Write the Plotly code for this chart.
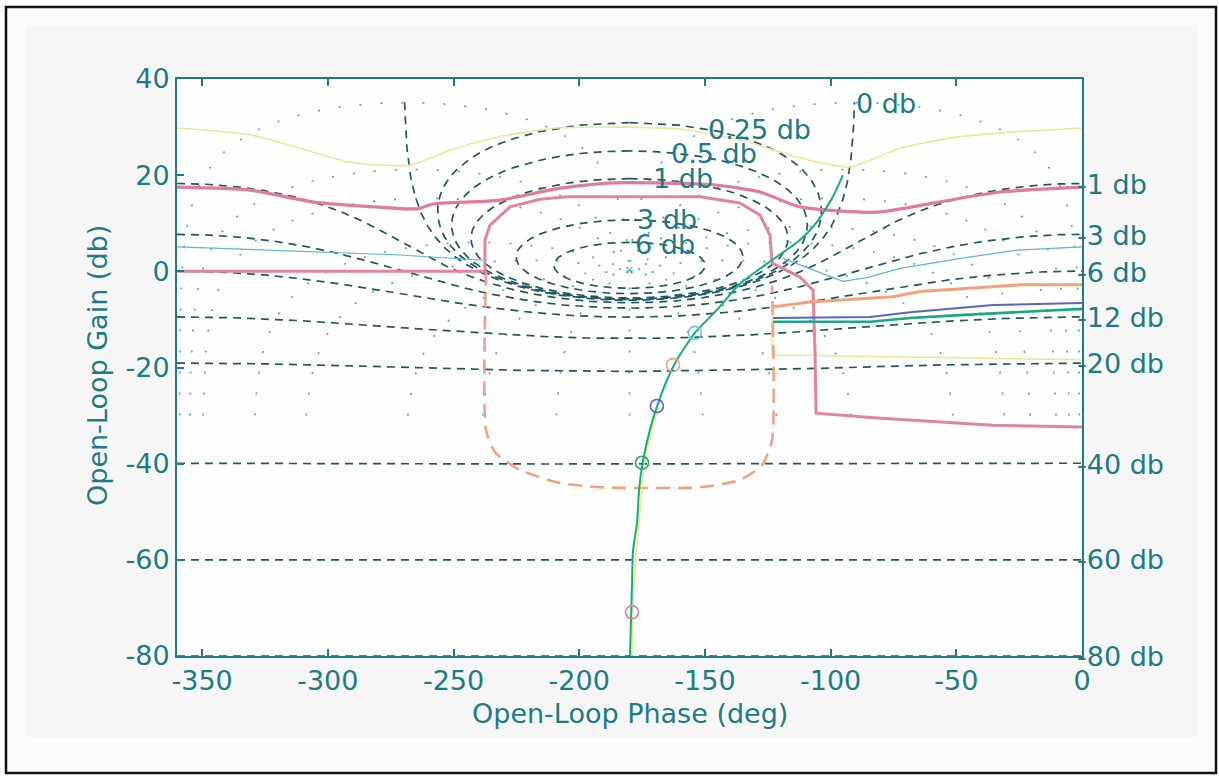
import numpy as np
import plotly.graph_objects as go

# ---------------- grid levels (Nichols chart) ----------------
m_levels_pos = [6, 3, 1, 0.5, 0.25]          # closed-loop gain contours, db (closed ellipses)
m_level_zero = 0
m_levels_neg = [-1, -3, -6, -12, -20, -40, -60, -80]
cl_phase_levels = [-1, -5, -10, -20, -30, -50, -90, -120, -150, -180,
                   -210, -240, -270, -310, -330, -350, -355, -359]
cl_phase_min_gain = -30

# ---------------- labels ----------------
top_label_text = ["0 db", "0.25 db", "0.5 db", "1 db", "3 db", "6 db"]
top_label_phase = [-90.6, -149.4, -164.2, -171.4, -178.0, -178.8]
top_label_gain = [35.0, 29.4, 24.6, 19.4, 10.7, 5.5]
right_label_text = ["-1 db", "-3 db", "-6 db", "-12 db", "-20 db", "-40 db", "-60 db", "-80 db"]
right_label_gain = [18.0, 7.5, -0.3, -9.7, -19.1, -40.2, -60.0, -80.0]

x_tick_vals = [-350, -300, -250, -200, -150, -100, -50, 0]
x_tick_text = ["-350", "-300", "-250", "-200", "-150", "-100", "-50", "0"]
y_tick_vals = [-80, -60, -40, -20, 0, 20, 40]
y_tick_text = ["-80", "-60", "-40", "-20", "0", "20", "40"]

# ---------------- bounds ----------------
yellow_top_phase = [-360, -331, -311.1, -291.2, -267.3, -251.4, -232.7, -208.8, -183.8,
                    -159.9, -136.1, -112.2, -92.3, -72.4, -52.5, -32.6, 0]
yellow_top_gain = [29.8, 28.4, 25.6, 22.7, 22.1, 25.2, 27.9, 29.8, 30.0,
                   29.6, 27.3, 23.6, 21.7, 25.6, 27.7, 28.8, 29.8]

yellow_low_phase = [-123.3, -123.3, 0]
yellow_low_gain = [-6.6, -17.4, -18.4]

pink_top_phase = [-360, -331, -305.9, -278.1, -264.5, -258.2, -231.5, -207.7, -186.6,
                  -146.8, -128.1, -112.2, -81.6, -59.3, -32.6, 0]
pink_top_gain = [17.5, 16.9, 14.4, 13.3, 13.0, 14.0, 14.8, 17.3, 18.4,
                 18.0, 16.5, 13.4, 12.3, 14.2, 16.5, 17.5]

pink_low_phase = [-360, -311.1, -237.5, -237.5, -235.5, -227.5, -215.6, -204.9, -152,
                  -136.1, -128.1, -124.1, -123.3, -112.2, -107, -106.2, -105.8, -81.6, -35.4, 0]
pink_low_gain = [0, 0, 0, 6.5, 9.6, 13.4, 15.0, 15.5, 15.5,
                 14.2, 11.7, 7.5, 1.7, -1.2, -3.9, -16.4, -29.5, -30.5, -32.0, -32.4]

orange_dash_phase = [-237.1, -237.1, -233.5, -223.6, -207.7, -191.7, -152, -136.1, -127.3, -123.3, -123.3]
orange_dash_gain = [0, -33, -37.6, -41.3, -44.0, -44.9, -44.9, -43.4, -40.3, -35.1, -3.0]

orange_phase = [-123.3, -108.2, -75.2, -64.5, -24.7, 0]
orange_gain = [-7.4, -6.4, -5.3, -4.2, -2.8, -2.8]

blue_phase = [-122.9, -84.3, -68.4, -35.4, 0]
blue_gain = [-9.7, -9.5, -8.5, -7.0, -6.6]

green_bound_phase = [-122.9, -84.3, -68.4, -48.6, 0]
green_bound_gain = [-10.5, -10.5, -9.7, -9.1, -7.8]

cyan_left_phase = [-360, -323, -271.3, -238.3]
cyan_left_gain = [5.1, 4.4, 3.4, 2.3]
cyan_right_phase = [-118.9, -95.1, -85.5, -72.4, -45.8, -25.8, 0]
cyan_right_gain = [2.7, -2.1, -1.3, 0.6, 2.9, 4.4, 5.1]

# ---------------- open-loop response ----------------
loop_phase = [-179.8, -179.0, -178.6, -177.0, -176.2, -174.8, -171.9, -169.1, -165.1,
              -161.1, -154.0, -145.2, -136.1, -125.3, -112.2, -105.4, -99.1, -95.1]
loop_gain = [-80.0, -64.8, -58.1, -52.3, -45.5, -39.9, -33.0, -28.2, -22.6,
             -18.4, -12.8, -8.0, -2.6, 1.6, 6.5, 10.3, 15.5, 20.0]

loop2_phase = [-179.0, -178.2, -176.2, -174.0, -171.1, -168.3]
loop2_gain = [-80.0, -64.8, -52.3, -39.9, -33.0, -28.2]

marker_phase = [-179.0, -175.0, -169.1, -162.7, -154.0]
marker_gain = [-70.9, -39.8, -28.0, -19.5, -12.8]
marker_color = ['#d77bb0', '#1aa86a', '#5a64c8', '#f0a070', '#6cc0e6']

# ---------------- styling ----------------
TEAL = '#1b7b87'
GRID = '#1e5963'
DOT = '#4aa6da'
FONT = 'DejaVu Sans'
FS = 27


def to_list(a):
    return [None if (v is None or not np.isfinite(v)) else float(v) for v in a]


def segments(ph, gd, keep):
    ph_out, gd_out = [], []
    prev = None
    for i in range(len(ph)):
        if not keep[i]:
            if prev is not None:
                ph_out.append(None)
                gd_out.append(None)
            prev = None
            continue
        if prev is not None and abs(ph[i] - prev) > 90:
            ph_out.append(None)
            gd_out.append(None)
        ph_out.append(float(ph[i]))
        gd_out.append(float(gd[i]))
        prev = ph[i]
    return ph_out, gd_out


fig = go.Figure()

# closed-loop phase contours (dotted)
mvals = np.logspace(-2, 4.5, 3000)
for psi in cl_phase_levels:
    z = np.exp(-1j * np.deg2rad(psi)) / mvals - 1.0
    G = 1.0 / z
    ph = np.angle(G, deg=True)
    ph = np.mod(ph + 360.0, 360.0) - 360.0
    gd = 20 * np.log10(np.abs(G))
    keep = (gd >= cl_phase_min_gain) & (gd < 60)
    px, gy = segments(ph, gd, keep)
    fig.add_trace(go.Scatter(x=px, y=gy, mode='lines', hoverinfo='skip',
                             line=dict(color=DOT, width=1.7, dash='2px,19px')))

# negative M contours
phi = np.linspace(-360, 0, 1441)
c = np.cos(np.deg2rad(phi))
for mdb in m_levels_neg:
    M = 10 ** (mdb / 20)
    g = (M ** 2 * c + np.sqrt(M ** 4 * c ** 2 + M ** 2 * (1 - M ** 2))) / (1 - M ** 2)
    fig.add_trace(go.Scatter(x=to_list(phi), y=to_list(20 * np.log10(g)), mode='lines',
                             hoverinfo='skip', line=dict(color=GRID, width=1.7, dash='8px,6px')))

# zero db contour
phi0 = np.linspace(-269.5, -90.5, 800)
g0 = -1.0 / (2 * np.cos(np.deg2rad(phi0)))
fig.add_trace(go.Scatter(x=to_list(phi0), y=to_list(20 * np.log10(g0)), mode='lines',
                         hoverinfo='skip', line=dict(color=GRID, width=1.7, dash='8px,6px')))

# positive M contours (closed)
psi_t = np.linspace(0, 2 * np.pi, 600)
for mdb in m_levels_pos:
    M = 10 ** (mdb / 20)
    G = 1.0 / (np.exp(-1j * psi_t) / M - 1.0)
    ph = np.angle(G, deg=True)
    ph = np.where(ph > 0, ph - 360, ph)
    fig.add_trace(go.Scatter(x=to_list(ph), y=to_list(20 * np.log10(np.abs(G))), mode='lines',
                             hoverinfo='skip', line=dict(color=GRID, width=1.7, dash='8px,6px')))


def add_line(x, y, color, width, dash='solid', shape='linear'):
    fig.add_trace(go.Scatter(x=x, y=y, mode='lines', hoverinfo='skip',
                             line=dict(color=color, width=width, dash=dash, shape=shape,
                                       smoothing=0.6)))


add_line(yellow_top_phase, yellow_top_gain, '#e4eb98', 1.6, shape='spline')
add_line(yellow_low_phase, yellow_low_gain, '#e4eb98', 1.6)
add_line(cyan_left_phase, cyan_left_gain, '#5ab4dc', 1.2)
add_line(cyan_right_phase, cyan_right_gain, '#5ab4dc', 1.2)
add_line(pink_top_phase, pink_top_gain, '#e07a9e', 3.2, shape='spline')
add_line(orange_dash_phase, orange_dash_gain, '#f2a27c', 2.6, dash='14px,8px', shape='spline')
add_line(pink_low_phase, pink_low_gain, '#e4849c', 3.0)
add_line(orange_phase, orange_gain, '#f2a27c', 3.0)
add_line(blue_phase, blue_gain, '#5a64c8', 2.0)
add_line(green_bound_phase, green_bound_gain, '#18a884', 2.6)

add_line(loop2_phase, loop2_gain, '#e8e878', 1.4, shape='spline')
add_line(loop_phase, loop_gain, '#12ad7e', 2.0, shape='spline')

for p, gval, col in zip(marker_phase, marker_gain, marker_color):
    fig.add_trace(go.Scatter(x=[p], y=[gval], mode='markers', hoverinfo='skip',
                             marker=dict(symbol='circle-open', size=13, color=col,
                                         line=dict(width=1.6, color=col))))

annotations = []
for t, p, gval in zip(top_label_text, top_label_phase, top_label_gain):
    annotations.append(dict(x=p, y=gval, xref='x', yref='y', text=t, showarrow=False,
                            xanchor='left', yanchor='middle',
                            font=dict(family=FONT, size=FS, color=TEAL)))
for t, gval in zip(right_label_text, right_label_gain):
    annotations.append(dict(x=0, y=gval, xref='x', yref='y', text=t, showarrow=False,
                            xanchor='left', yanchor='middle', xshift=-7,
                            font=dict(family=FONT, size=FS, color=TEAL)))

annotations.append(dict(x=0.5, y=(656 - 713) / 577, xref='paper', yref='paper',
                        text='Open-Loop Phase (deg)', showarrow=False,
                        xanchor='center', yanchor='middle',
                        font=dict(family=FONT, size=FS, color=TEAL)))
annotations.append(dict(x=(97 - 177) / 905, y=(656 - 366) / 577, xref='paper', yref='paper',
                        text='Open-Loop Gain (db)', showarrow=False, textangle=-90,
                        xanchor='center', yanchor='middle',
                        font=dict(family=FONT, size=FS, color=TEAL)))

shapes = [
    dict(type='rect', xref='paper', yref='paper', layer='below',
         x0=(25 - 177) / 905, x1=(1197 - 177) / 905, y0=(656 - 737) / 577, y1=(656 - 25) / 577,
         fillcolor='#f6f6f6', line=dict(width=0)),
    dict(type='rect', xref='paper', yref='paper', layer='below',
         x0=0, x1=1, y0=0, y1=1, fillcolor='#fefefe', line=dict(width=0)),
    dict(type='rect', xref='paper', yref='paper', layer='above',
         x0=(6 - 177) / 905, x1=(1216 - 177) / 905, y0=(656 - 773) / 577, y1=(656 - 7) / 577,
         line=dict(color='#111111', width=2.5), fillcolor='rgba(0,0,0,0)'),
]

fig.update_layout(
    width=1219, height=776,
    margin=dict(l=177, r=137, t=79, b=120),
    paper_bgcolor='#fcfcfc', plot_bgcolor='#fefefe',
    showlegend=False,
    annotations=annotations, shapes=shapes,
    font=dict(family=FONT, size=FS, color=TEAL),
    xaxis=dict(range=[-360, 0], tickvals=x_tick_vals, ticktext=x_tick_text, ticks='inside',
               ticklen=7, tickwidth=1.5, tickcolor=TEAL, showline=True, linecolor=TEAL,
               linewidth=2, mirror='ticks', showgrid=False, zeroline=False,
               tickfont=dict(family=FONT, size=FS, color=TEAL)),
    yaxis=dict(range=[-80, 40], tickvals=y_tick_vals, ticktext=y_tick_text, ticks='inside',
               ticklen=7, tickwidth=1.5, tickcolor=TEAL, showline=True, linecolor=TEAL,
               linewidth=2, mirror=True, showgrid=False, zeroline=False,
               tickfont=dict(family=FONT, size=FS, color=TEAL)),
)

fig.write_html("out.html", config={'displayModeBar': False},
               post_script="document.body.style.margin='0px';document.body.style.overflow='hidden';")
